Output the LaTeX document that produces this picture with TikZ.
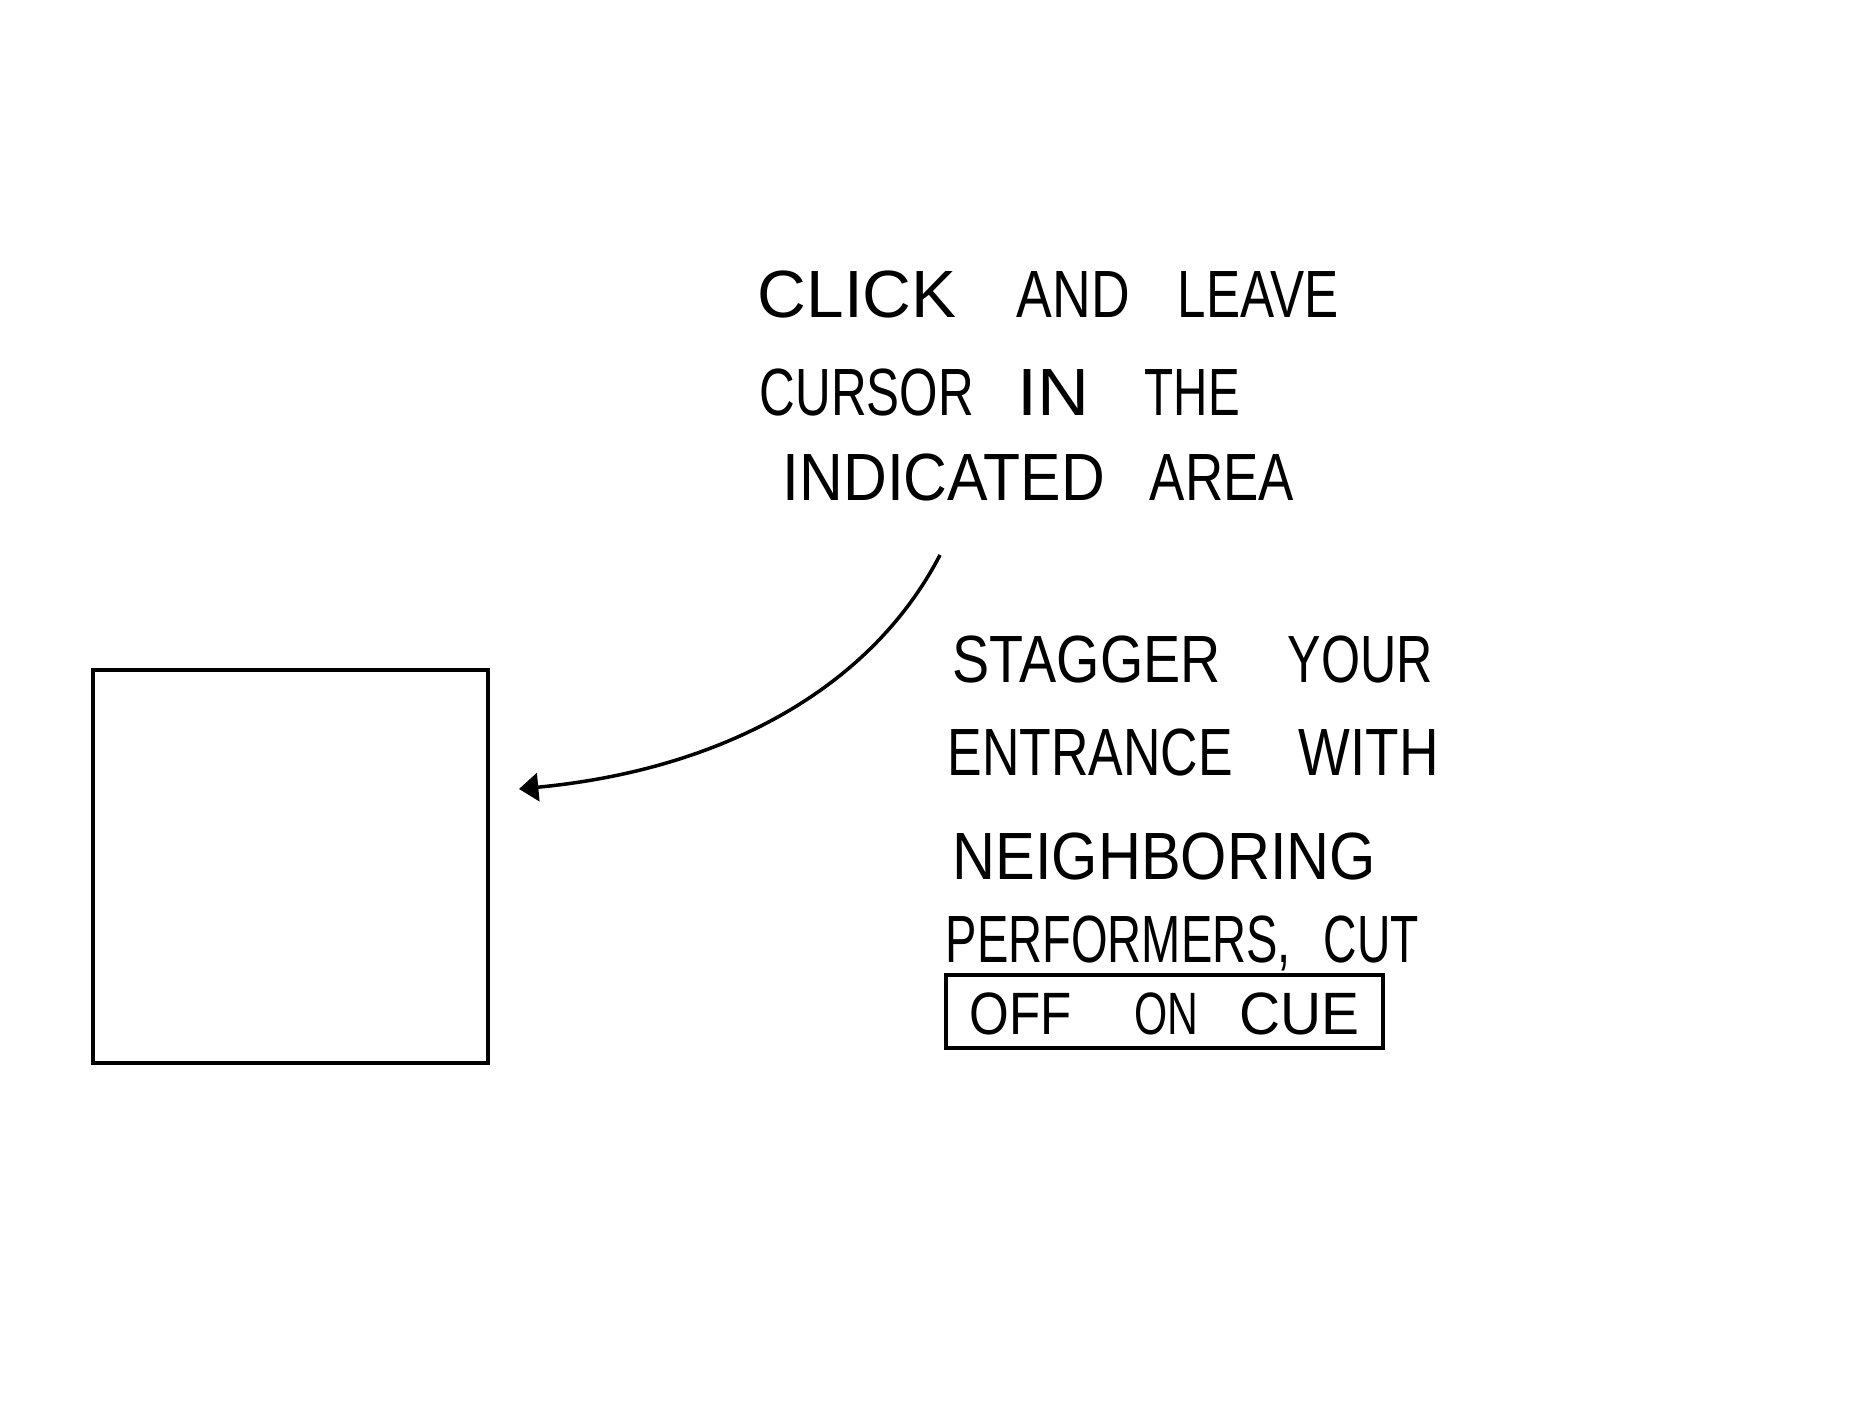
\documentclass[tikz,border=0pt]{standalone}
\usepackage{fontspec}
\setmainfont{Liberation Sans}
\usetikzlibrary{arrows.meta}
\tikzset{
  txt/.style={inner sep=0pt, anchor=west, text height=0.5cm, text depth=0pt, font=\fontsize{19}{22}\selectfont},
  boxline/.style={draw, line width=1.15pt},
  conn/.style={line width=1pt, -{Triangle[length=5.5pt,width=8pt]}}
}
\newcommand\wbox[2]{\resizebox{#1}{\height}{#2}}
\newcommand\gap[1]{\hspace{#1}}
\begin{document}
\begin{tikzpicture}[x=0.01cm,y=-0.01cm]
\useasboundingbox (0,0) rectangle (1872,1404);
% square
\node[boxline, minimum width=3.95cm, minimum height=3.93cm, inner sep=0pt] (sq) at (290.5,866.5) {};
% first text block
\node[txt] (l1) at (757,292) {\wbox{1.99cm}{CLICK}\gap{0.60cm}\wbox{1.13cm}{AND}\gap{0.48cm}\wbox{1.61cm}{LEAVE}};
\node[txt] (l2) at (759,390) {\wbox{2.14cm}{CURSOR}\gap{0.44cm}\wbox{0.72cm}{IN}\gap{0.55cm}\wbox{0.95cm}{THE}};
\node[txt] (l3) at (782,475) {\wbox{3.22cm}{INDICATED}\gap{0.45cm}\wbox{1.44cm}{AREA}};
% second text block
\node[txt] (m1) at (952,657) {\wbox{2.68cm}{STAGGER}\gap{0.67cm}\wbox{1.45cm}{YOUR}};
\node[txt] (m2) at (947,750) {\wbox{2.85cm}{ENTRANCE}\gap{0.66cm}\wbox{1.40cm}{WITH}};
\node[txt] (m3) at (952,854) {\wbox{4.23cm}{NEIGHBORING}};
\node[txt] (m4) at (945,937) {\wbox{3.45cm}{PERFORMERS,}\gap{0.33cm}\wbox{0.95cm}{CUT}};
\node[boxline, inner sep=0pt, minimum width=4.37cm, minimum height=0.73cm, text height=0.45cm, text depth=0pt, font=\fontsize{17}{20}\selectfont] (m5) at (1164.5,1011.5) {\wbox{1.02cm}{OFF}\gap{0.63cm}\wbox{0.64cm}{ON}\gap{0.41cm}\wbox{1.20cm}{CUE}\gap{0.23cm}};
% connector
\coordinate (as) at (940,555);
\coordinate (ae) at (519,789);
\draw[conn] (as) .. controls (870,690) and (720,770) .. (ae);
\end{tikzpicture}
\end{document}
